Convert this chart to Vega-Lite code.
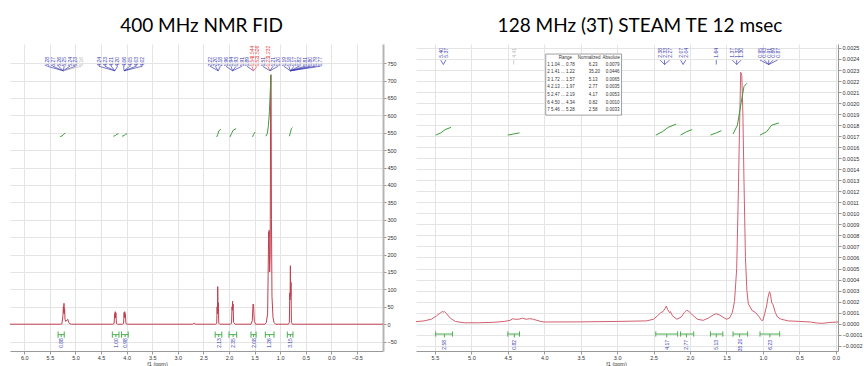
{
"$schema": "https://vega.github.io/schema/vega-lite/v6.json",
"padding": {"left": 10, "top": 17, "right": 0, "bottom": 0},
"spacing": 19,
"config": {
  "view": {"stroke": null},
  "font": "Liberation Sans",
  "title": {"font": "Lato", "fontSize": 19, "fontWeight": "normal", "color": "#000", "offset": 8},
  "axis": {"labelFont": "Liberation Sans", "labelFontSize": 5.5, "labelColor": "#333", "tickColor": "#999", "tickSize": 3, "labelPadding": 1, "domainColor": "#999", "gridColor": "#e4e4e4", "gridWidth": 1, "titleFont": "Liberation Sans", "titleFontSize": 5.5, "titleFontWeight": "normal", "titleColor": "#333", "labelFlush": false}
},
"datasets": {
  "L": [{"ppm":6.28,"v":0},{"ppm":5.3,"v":0},{"ppm":5.265,"v":1},{"ppm":5.245,"v":25},{"ppm":5.237,"v":50},{"ppm":5.231,"v":33},{"ppm":5.225,"v":60},{"ppm":5.219,"v":30},{"ppm":5.213,"v":45},{"ppm":5.205,"v":14},{"ppm":5.19,"v":8},{"ppm":5.165,"v":12},{"ppm":5.15,"v":14},{"ppm":5.135,"v":6},{"ppm":5.11,"v":1},{"ppm":5.08,"v":0},
   {"ppm":4.27,"v":0},{"ppm":4.245,"v":2},{"ppm":4.235,"v":30},{"ppm":4.229,"v":20},{"ppm":4.223,"v":36},{"ppm":4.216,"v":18},{"ppm":4.21,"v":33},{"ppm":4.2,"v":2},{"ppm":4.18,"v":0},
   {"ppm":4.08,"v":0},{"ppm":4.06,"v":2},{"ppm":4.05,"v":34},{"ppm":4.044,"v":20},{"ppm":4.038,"v":36},{"ppm":4.031,"v":18},{"ppm":4.025,"v":30},{"ppm":4.015,"v":2},{"ppm":3.99,"v":0},
   {"ppm":2.71,"v":0},{"ppm":2.68,"v":3},{"ppm":2.65,"v":0},
   {"ppm":2.26,"v":0},{"ppm":2.24,"v":2},{"ppm":2.232,"v":50},{"ppm":2.226,"v":30},{"ppm":2.22,"v":108},{"ppm":2.214,"v":40},{"ppm":2.208,"v":62},{"ppm":2.2,"v":3},{"ppm":2.18,"v":0},
   {"ppm":1.97,"v":0},{"ppm":1.95,"v":3},{"ppm":1.94,"v":50},{"ppm":1.935,"v":40},{"ppm":1.93,"v":66},{"ppm":1.925,"v":45},{"ppm":1.92,"v":58},{"ppm":1.91,"v":5},{"ppm":1.88,"v":0},
   {"ppm":1.57,"v":0},{"ppm":1.545,"v":10},{"ppm":1.53,"v":58},{"ppm":1.52,"v":55},{"ppm":1.505,"v":8},{"ppm":1.48,"v":0},
   {"ppm":1.3,"v":0},{"ppm":1.27,"v":5},{"ppm":1.245,"v":30},{"ppm":1.235,"v":140},{"ppm":1.225,"v":265},{"ppm":1.22,"v":250},{"ppm":1.215,"v":270},{"ppm":1.205,"v":150},{"ppm":1.195,"v":200},{"ppm":1.185,"v":715},{"ppm":1.178,"v":700},{"ppm":1.17,"v":300},{"ppm":1.16,"v":80},{"ppm":1.14,"v":20},{"ppm":1.12,"v":5},{"ppm":1.09,"v":0},
   {"ppm":0.84,"v":0},{"ppm":0.82,"v":5},{"ppm":0.812,"v":90},{"ppm":0.806,"v":70},{"ppm":0.8,"v":168},{"ppm":0.794,"v":80},{"ppm":0.788,"v":120},{"ppm":0.78,"v":5},{"ppm":0.76,"v":0},{"ppm":-1.01,"v":0}],
  "LC": [{"g":"a","ppm":5.3,"v":539},{"g":"a","ppm":5.26,"v":541},{"g":"a","ppm":5.23,"v":546},{"g":"a","ppm":5.2,"v":549},
   {"g":"b","ppm":4.26,"v":540},{"g":"b","ppm":4.22,"v":542},{"g":"b","ppm":4.19,"v":546},{"g":"b","ppm":4.16,"v":547},
   {"g":"c","ppm":4.09,"v":540},{"g":"c","ppm":4.05,"v":542},{"g":"c","ppm":4.02,"v":546},{"g":"c","ppm":3.99,"v":547},
   {"g":"d","ppm":2.24,"v":538},{"g":"d","ppm":2.22,"v":545},{"g":"d","ppm":2.2,"v":555},{"g":"d","ppm":2.16,"v":560},
   {"g":"e","ppm":1.98,"v":538},{"g":"e","ppm":1.95,"v":548},{"g":"e","ppm":1.92,"v":557},{"g":"e","ppm":1.86,"v":562},
   {"g":"f","ppm":1.54,"v":538},{"g":"f","ppm":1.52,"v":545},{"g":"f","ppm":1.49,"v":552},
   {"g":"h","ppm":1.28,"v":540},{"g":"h","ppm":1.25,"v":548},{"g":"h","ppm":1.23,"v":570},{"g":"h","ppm":1.21,"v":610},{"g":"h","ppm":1.19,"v":680},{"g":"h","ppm":1.175,"v":718},
   {"g":"i","ppm":0.82,"v":540},{"g":"i","ppm":0.8,"v":550},{"g":"i","ppm":0.78,"v":562},{"g":"i","ppm":0.76,"v":565}],
  "LB": [{"ppm":5.34,"ppm2":5.22,"v":-30},{"ppm":4.28,"ppm2":4.15,"v":-30},{"ppm":4.1,"ppm2":3.97,"v":-30},{"ppm":2.27,"ppm2":2.14,"v":-30},{"ppm":2.0,"ppm2":1.85,"v":-30},{"ppm":1.57,"ppm2":1.47,"v":-30},{"ppm":1.29,"ppm2":1.12,"v":-30},{"ppm":0.86,"ppm2":0.75,"v":-30}],
  "LE": [{"ppm":5.34,"v":-21,"v2":-39},{"ppm":5.22,"v":-21,"v2":-39},{"ppm":5.28,"v":-30,"v2":-37},
   {"ppm":4.28,"v":-21,"v2":-39},{"ppm":4.15,"v":-21,"v2":-39},{"ppm":4.21,"v":-30,"v2":-37},
   {"ppm":4.1,"v":-21,"v2":-39},{"ppm":3.97,"v":-21,"v2":-39},{"ppm":4.03,"v":-30,"v2":-37},
   {"ppm":2.27,"v":-21,"v2":-39},{"ppm":2.14,"v":-21,"v2":-39},{"ppm":2.2,"v":-30,"v2":-37},
   {"ppm":2.0,"v":-21,"v2":-39},{"ppm":1.85,"v":-21,"v2":-39},{"ppm":1.92,"v":-30,"v2":-37},
   {"ppm":1.57,"v":-21,"v2":-39},{"ppm":1.47,"v":-21,"v2":-39},{"ppm":1.52,"v":-30,"v2":-37},
   {"ppm":1.29,"v":-21,"v2":-39},{"ppm":1.12,"v":-21,"v2":-39},{"ppm":1.21,"v":-30,"v2":-37},
   {"ppm":0.86,"v":-21,"v2":-39},{"ppm":0.75,"v":-21,"v2":-39},{"ppm":0.8,"v":-30,"v2":-37}],
  "LL": [{"ppm":5.28,"v":-54,"t":"0.88"},{"ppm":4.21,"v":-54,"t":"1.00"},{"ppm":4.03,"v":-54,"t":"0.98"},{"ppm":2.2,"v":-54,"t":"2.13"},{"ppm":1.92,"v":-54,"t":"2.35"},{"ppm":1.52,"v":-54,"t":"2.08"},{"ppm":1.21,"v":-54,"t":"1.26"},{"ppm":0.8,"v":-54,"t":"3.15"}],
  "LT": [{"ppm":5.55,"t":"5.28","k":"b","c":5.24,"v":768,"v1":741,"v2":728},{"ppm":5.44,"t":"5.27","k":"b","c":5.24,"v":768,"v1":741,"v2":728},{"ppm":5.33,"t":"5.26","k":"b","c":5.24,"v":768,"v1":741,"v2":728},{"ppm":5.22,"t":"5.25","k":"b","c":5.24,"v":768,"v1":741,"v2":728},{"ppm":5.11,"t":"5.24","k":"b","c":5.24,"v":768,"v1":741,"v2":728},{"ppm":5.0,"t":"5.23","k":"b","c":5.24,"v":768,"v1":741,"v2":728},{"ppm":4.89,"t":"5.16","k":"g","c":5.24,"v":768,"v1":741,"v2":728},
   {"ppm":4.54,"t":"4.24","k":"b","c":4.23,"v":768,"v1":741,"v2":728},{"ppm":4.42,"t":"4.23","k":"b","c":4.23,"v":768,"v1":741,"v2":728},{"ppm":4.3,"t":"4.21","k":"b","c":4.23,"v":768,"v1":741,"v2":728},{"ppm":4.18,"t":"4.20","k":"b","c":4.23,"v":768,"v1":741,"v2":728},{"ppm":4.06,"t":"4.06","k":"b","c":4.05,"v":768,"v1":741,"v2":728},{"ppm":3.94,"t":"4.05","k":"b","c":4.05,"v":768,"v1":741,"v2":728},{"ppm":3.82,"t":"4.03","k":"b","c":4.05,"v":768,"v1":741,"v2":728},{"ppm":3.7,"t":"4.02","k":"b","c":4.05,"v":768,"v1":741,"v2":728},
   {"ppm":2.37,"t":"2.22","k":"b","c":2.21,"v":768,"v1":741,"v2":728},{"ppm":2.27,"t":"2.20","k":"b","c":2.21,"v":768,"v1":741,"v2":728},{"ppm":2.17,"t":"2.18","k":"b","c":2.21,"v":768,"v1":741,"v2":728},{"ppm":2.06,"t":"1.96","k":"b","c":1.93,"v":768,"v1":741,"v2":728},{"ppm":1.96,"t":"1.94","k":"b","c":1.93,"v":768,"v1":741,"v2":728},{"ppm":1.86,"t":"1.93","k":"b","c":1.93,"v":768,"v1":741,"v2":728},{"ppm":1.75,"t":"1.91","k":"b","c":1.93,"v":768,"v1":741,"v2":728},{"ppm":1.65,"t":"1.89","k":"b","c":1.52,"v":768,"v1":741,"v2":728},{"ppm":1.55,"t":"1.54","k":"r","c":1.52,"v":768,"v1":741,"v2":728},{"ppm":1.45,"t":"1.52","k":"r","c":1.52,"v":768,"v1":741,"v2":728},{"ppm":1.34,"t":"1.51","k":"b","c":1.2,"v":768,"v1":741,"v2":728},{"ppm":1.24,"t":"1.23","k":"r","c":1.2,"v":768,"v1":741,"v2":728},{"ppm":1.14,"t":"1.21","k":"b","c":1.2,"v":768,"v1":741,"v2":728},{"ppm":1.04,"t":"1.20","k":"b","c":1.2,"v":768,"v1":741,"v2":728},{"ppm":0.93,"t":"1.19","k":"b","c":0.8,"v":768,"v1":741,"v2":728},{"ppm":0.83,"t":"1.18","k":"b","c":0.8,"v":768,"v1":741,"v2":728},{"ppm":0.73,"t":"1.17","k":"b","c":0.8,"v":768,"v1":741,"v2":728},{"ppm":0.63,"t":"0.82","k":"b","c":0.8,"v":768,"v1":741,"v2":728},{"ppm":0.52,"t":"0.81","k":"b","c":0.8,"v":768,"v1":741,"v2":728},{"ppm":0.42,"t":"0.80","k":"b","c":0.8,"v":768,"v1":741,"v2":728},{"ppm":0.32,"t":"0.79","k":"b","c":0.8,"v":768,"v1":741,"v2":728},{"ppm":0.22,"t":"0.77","k":"b","c":0.8,"v":768,"v1":741,"v2":728}],
  "LR": [{"ppm":1.55,"t":"1.544","v":800},{"ppm":1.45,"t":"1.526","v":800},{"ppm":1.24,"t":"1.232","v":800}],
  "R": [{"ppm":5.76,"v":0.000018},{"ppm":5.65,"v":0.000025},{"ppm":5.55,"v":0.00004},{"ppm":5.48,"v":0.00007},{"ppm":5.42,"v":0.0001},{"ppm":5.4,"v":0.00011},{"ppm":5.385,"v":0.000105},{"ppm":5.37,"v":0.00011},{"ppm":5.34,"v":0.00009},{"ppm":5.29,"v":0.00005},{"ppm":5.22,"v":0.00002},{"ppm":5.1,"v":0.000008},{"ppm":4.9,"v":0.000008},{"ppm":4.7,"v":0.000012},{"ppm":4.55,"v":0.00002},{"ppm":4.47,"v":0.00003},{"ppm":4.43,"v":0.000045},{"ppm":4.4,"v":0.00004},{"ppm":4.35,"v":0.00004},{"ppm":4.3,"v":0.00005},{"ppm":4.25,"v":0.00004},{"ppm":4.2,"v":0.000045},{"ppm":4.15,"v":0.00004},{"ppm":4.1,"v":0.00003},{"ppm":4.05,"v":0.00002},{"ppm":4.0,"v":0.000015},{"ppm":3.5,"v":0.000016},{"ppm":3.0,"v":0.00002},{"ppm":2.6,"v":0.000025},{"ppm":2.5,"v":0.00004},{"ppm":2.45,"v":0.00007},{"ppm":2.4,"v":0.0001},{"ppm":2.37,"v":0.00011},{"ppm":2.34,"v":0.00014},{"ppm":2.325,"v":0.00016},{"ppm":2.31,"v":0.00013},{"ppm":2.28,"v":0.0001},{"ppm":2.27,"v":0.00011},{"ppm":2.24,"v":0.00007},{"ppm":2.18,"v":0.00004},{"ppm":2.12,"v":0.00006},{"ppm":2.08,"v":0.0001},{"ppm":2.05,"v":0.00012},{"ppm":2.02,"v":0.000115},{"ppm":1.97,"v":0.00008},{"ppm":1.9,"v":0.00004},{"ppm":1.82,"v":0.00003},{"ppm":1.75,"v":0.00005},{"ppm":1.68,"v":0.00008},{"ppm":1.64,"v":0.00009},{"ppm":1.6,"v":0.00008},{"ppm":1.55,"v":0.00006},{"ppm":1.5,"v":0.00004},{"ppm":1.46,"v":0.00005},{"ppm":1.42,"v":0.0001},{"ppm":1.39,"v":0.0002},{"ppm":1.36,"v":0.0005},{"ppm":1.34,"v":0.0011},{"ppm":1.32,"v":0.0018},{"ppm":1.305,"v":0.00228},{"ppm":1.29,"v":0.00225},{"ppm":1.275,"v":0.0019},{"ppm":1.26,"v":0.0013},{"ppm":1.24,"v":0.0006},{"ppm":1.22,"v":0.0003},{"ppm":1.2,"v":0.00018},{"ppm":1.15,"v":0.00012},{"ppm":1.1,"v":0.0001},{"ppm":1.05,"v":0.00006},{"ppm":1.02,"v":0.00003},{"ppm":1.0,"v":0.00003},{"ppm":0.98,"v":0.00008},{"ppm":0.95,"v":0.00016},{"ppm":0.93,"v":0.00024},{"ppm":0.91,"v":0.00029},{"ppm":0.895,"v":0.00026},{"ppm":0.88,"v":0.00019},{"ppm":0.86,"v":0.00017},{"ppm":0.83,"v":0.0001},{"ppm":0.8,"v":0.00006},{"ppm":0.75,"v":0.00004},{"ppm":0.65,"v":0.000025},{"ppm":0.5,"v":0.00002},{"ppm":0.35,"v":0.000015},{"ppm":0.25,"v":0.000005},{"ppm":0.18,"v":0.000003},{"ppm":0.1,"v":0.00001},{"ppm":-0.03,"v":0.000015}],
  "RC": [{"g":"a","ppm":5.49,"v":0.00171},{"g":"a","ppm":5.42,"v":0.00173},{"g":"a","ppm":5.36,"v":0.00176},{"g":"a","ppm":5.28,"v":0.00178},
   {"g":"b","ppm":4.5,"v":0.00171},{"g":"b","ppm":4.42,"v":0.00172},{"g":"b","ppm":4.34,"v":0.00173},
   {"g":"c","ppm":2.47,"v":0.00171},{"g":"c","ppm":2.38,"v":0.00174},{"g":"c","ppm":2.3,"v":0.00178},{"g":"c","ppm":2.19,"v":0.00181},
   {"g":"d","ppm":2.13,"v":0.00171},{"g":"d","ppm":2.05,"v":0.00174},{"g":"d","ppm":1.97,"v":0.00176},
   {"g":"e","ppm":1.72,"v":0.00171},{"g":"e","ppm":1.64,"v":0.00173},{"g":"e","ppm":1.57,"v":0.00175},
   {"g":"f","ppm":1.41,"v":0.00172},{"g":"f","ppm":1.35,"v":0.0018},{"g":"f","ppm":1.3,"v":0.002},{"g":"f","ppm":1.26,"v":0.00215},{"g":"f","ppm":1.22,"v":0.00218},
   {"g":"h","ppm":1.04,"v":0.00171},{"g":"h","ppm":0.95,"v":0.00174},{"g":"h","ppm":0.88,"v":0.0018},{"g":"h","ppm":0.78,"v":0.00182}],
  "RB": [{"ppm":5.49,"ppm2":5.26,"v":-0.000094},{"ppm":4.5,"ppm2":4.34,"v":-0.000094},{"ppm":2.47,"ppm2":2.17,"v":-0.000094},{"ppm":2.13,"ppm2":1.95,"v":-0.000094},{"ppm":1.72,"ppm2":1.55,"v":-0.000094},{"ppm":1.41,"ppm2":1.21,"v":-0.000094},{"ppm":1.04,"ppm2":0.77,"v":-0.000094}],
  "RE": [{"ppm":5.49,"v":-0.00007,"v2":-0.000118},{"ppm":5.26,"v":-0.00007,"v2":-0.000118},{"ppm":5.37,"v":-0.000094,"v2":-0.000125},
   {"ppm":4.5,"v":-0.00007,"v2":-0.000118},{"ppm":4.34,"v":-0.00007,"v2":-0.000118},{"ppm":4.41,"v":-0.000094,"v2":-0.000125},
   {"ppm":2.47,"v":-0.00007,"v2":-0.000118},{"ppm":2.17,"v":-0.00007,"v2":-0.000118},{"ppm":2.32,"v":-0.000094,"v2":-0.000125},
   {"ppm":2.13,"v":-0.00007,"v2":-0.000118},{"ppm":1.95,"v":-0.00007,"v2":-0.000118},{"ppm":2.05,"v":-0.000094,"v2":-0.000125},
   {"ppm":1.72,"v":-0.00007,"v2":-0.000118},{"ppm":1.55,"v":-0.00007,"v2":-0.000118},{"ppm":1.64,"v":-0.000094,"v2":-0.000125},
   {"ppm":1.41,"v":-0.00007,"v2":-0.000118},{"ppm":1.21,"v":-0.00007,"v2":-0.000118},{"ppm":1.32,"v":-0.000094,"v2":-0.000125},
   {"ppm":1.04,"v":-0.00007,"v2":-0.000118},{"ppm":0.77,"v":-0.00007,"v2":-0.000118},{"ppm":0.905,"v":-0.000094,"v2":-0.000125}],
  "RL": [{"ppm":5.37,"v":-0.000193,"t":"2.58"},{"ppm":4.41,"v":-0.000193,"t":"0.82"},{"ppm":2.32,"v":-0.000193,"t":"4.17"},{"ppm":2.05,"v":-0.000193,"t":"2.77"},{"ppm":1.64,"v":-0.000193,"t":"5.13"},{"ppm":1.32,"v":-0.000193,"t":"35.20"},{"ppm":0.905,"v":-0.000193,"t":"6.23"}],
  "RT": [{"ppm":5.42,"t":"5.40","k":"b","c":5.385,"v":0.0025,"v1":0.00239,"v2":0.00235},{"ppm":5.35,"t":"5.37","k":"b","c":5.385,"v":0.0025,"v1":0.00239,"v2":0.00235},{"ppm":4.42,"t":"4.41","k":"g","c":4.42,"v":0.0025,"v1":0.00239,"v2":0.00235},{"ppm":2.41,"t":"2.38","k":"b","c":2.35,"v":0.0025,"v1":0.00239,"v2":0.00235},{"ppm":2.35,"t":"2.33","k":"b","c":2.35,"v":0.0025,"v1":0.00239,"v2":0.00235},{"ppm":2.28,"t":"2.27","k":"b","c":2.35,"v":0.0025,"v1":0.00239,"v2":0.00235},{"ppm":2.13,"t":"2.07","k":"b","c":2.095,"v":0.0025,"v1":0.00239,"v2":0.00235},{"ppm":2.06,"t":"2.04","k":"b","c":2.095,"v":0.0025,"v1":0.00239,"v2":0.00235},{"ppm":1.64,"t":"1.64","k":"b","c":1.64,"v":0.0025,"v1":0.00239,"v2":0.00235},{"ppm":1.42,"t":"1.37","k":"b","c":1.36,"v":0.0025,"v1":0.00239,"v2":0.00235},{"ppm":1.36,"t":"1.32","k":"b","c":1.36,"v":0.0025,"v1":0.00239,"v2":0.00235},{"ppm":1.3,"t":"1.30","k":"b","c":1.36,"v":0.0025,"v1":0.00239,"v2":0.00235},{"ppm":1.04,"t":"0.95","k":"b","c":0.92,"v":0.0025,"v1":0.00239,"v2":0.00235},{"ppm":0.98,"t":"0.93","k":"b","c":0.92,"v":0.0025,"v1":0.00239,"v2":0.00235},{"ppm":0.92,"t":"0.91","k":"b","c":0.92,"v":0.0025,"v1":0.00239,"v2":0.00235},{"ppm":0.86,"t":"0.89","k":"b","c":0.92,"v":0.0025,"v1":0.00239,"v2":0.00235},{"ppm":0.8,"t":"0.87","k":"b","c":0.92,"v":0.0025,"v1":0.00239,"v2":0.00235}],
  "BOX": [{"ppm":3.98,"ppm2":2.94,"v":0.002445,"v2":0.001891}],
  "TB": [{"ppm":3.8,"v":0.002406,"t":"Range"},{"ppm":3.54,"v":0.002406,"t":"Normalized"},{"ppm":3.2,"v":0.002406,"t":"Absolute"},
   {"ppm":3.96,"v":0.002345,"t":"1 1.04 ... 0.78"},{"ppm":3.39,"v":0.002345,"t":"6.23"},{"ppm":3.155,"v":0.002345,"t":"0.0079"},
   {"ppm":3.96,"v":0.002279,"t":"2 1.41 ... 1.22"},{"ppm":3.39,"v":0.002279,"t":"35.20"},{"ppm":3.155,"v":0.002279,"t":"0.0446"},
   {"ppm":3.96,"v":0.002209,"t":"3 1.72 ... 1.57"},{"ppm":3.39,"v":0.002209,"t":"5.13"},{"ppm":3.155,"v":0.002209,"t":"0.0065"},
   {"ppm":3.96,"v":0.002143,"t":"4 2.13 ... 1.97"},{"ppm":3.39,"v":0.002143,"t":"2.77"},{"ppm":3.155,"v":0.002143,"t":"0.0035"},
   {"ppm":3.96,"v":0.002073,"t":"5 2.47 ... 2.19"},{"ppm":3.39,"v":0.002073,"t":"4.17"},{"ppm":3.155,"v":0.002073,"t":"0.0053"},
   {"ppm":3.96,"v":0.002004,"t":"6 4.50 ... 4.34"},{"ppm":3.39,"v":0.002004,"t":"0.82"},{"ppm":3.155,"v":0.002004,"t":"0.0010"},
   {"ppm":3.96,"v":0.001937,"t":"7 5.46 ... 5.28"},{"ppm":3.39,"v":0.001937,"t":"2.58"},{"ppm":3.155,"v":0.001937,"t":"0.0033"}]
},
"hconcat": [
 {
  "width": 373, "height": 307,
  "title": {"text": "400 MHz NMR FID", "dx": 5},
  "encoding": {
    "x": {"field": "ppm", "type": "quantitative", "scale": {"domain": [-1.01, 6.28], "reverse": true, "nice": false, "zero": false},
          "axis": {"values": [6, 5.5, 5, 4.5, 4, 3.5, 3, 2.5, 2, 1.5, 1, 0.5, 0, -0.5], "format": ".1f", "grid": true, "title": "f1 (ppm)", "titleX": 147, "titleY": 12, "titleBaseline": "middle", "titleAlign": "center"}},
    "y": {"field": "v", "type": "quantitative", "scale": {"domain": [-77, 805], "nice": false, "zero": false},
          "axis": {"orient": "right", "values": [-50, 0, 50, 100, 150, 200, 250, 300, 350, 400, 450, 500, 550, 600, 650, 700, 750], "format": "d", "grid": true, "title": null, "domainWidth": 2, "domainColor": "#b5b5b5"}}
  },
  "layer": [
    {"data": {"name": "L"}, "mark": {"type": "line", "color": "#c04050", "strokeWidth": 1, "clip": true}},
    {"data": {"name": "LC"}, "mark": {"type": "line", "color": "#3a9e3a", "strokeWidth": 1}, "encoding": {"detail": {"field": "g"}}},
    {"data": {"name": "LB"}, "mark": {"type": "rule", "color": "#4caf50", "strokeWidth": 1}, "encoding": {"x2": {"field": "ppm2"}}},
    {"data": {"name": "LE"}, "mark": {"type": "rule", "color": "#4caf50", "strokeWidth": 1}, "encoding": {"y2": {"field": "v2"}}},
    {"data": {"name": "LL"}, "mark": {"type": "text", "angle": 270, "align": "center", "baseline": "middle", "fontSize": 5, "color": "#3a3ab0"}, "encoding": {"text": {"field": "t"}}},
    {"data": {"name": "LT"}, "mark": {"type": "rule", "strokeWidth": 0.7}, "encoding": {"x2": {"field": "c"}, "y": {"field": "v1", "type": "quantitative"}, "y2": {"field": "v2"}, "color": {"field": "k", "type": "nominal", "scale": {"domain": ["b", "r", "g"], "range": ["#3a3ab0", "#e8474c", "#bbbbbb"]}, "legend": null}}},
    {"data": {"name": "LT"}, "mark": {"type": "text", "angle": 270, "align": "right", "baseline": "middle", "fontSize": 5}, "encoding": {"text": {"field": "t"}, "color": {"field": "k", "type": "nominal", "scale": {"domain": ["b", "r", "g"], "range": ["#3a3ab0", "#e8474c", "#bbbbbb"]}, "legend": null}}},
    {"data": {"name": "LR"}, "mark": {"type": "text", "angle": 270, "align": "right", "baseline": "middle", "fontSize": 5, "color": "#e8474c"}, "encoding": {"text": {"field": "t"}}}
  ]
 },
 {
  "width": 422, "height": 307,
  "title": {"text": "128 MHz (3T) STEAM TE 12 msec", "dx": 13},
  "encoding": {
    "x": {"field": "ppm", "type": "quantitative", "scale": {"domain": [-0.03, 5.76], "reverse": true, "nice": false, "zero": false},
          "axis": {"values": [5.5, 5, 4.5, 4, 3.5, 3, 2.5, 2, 1.5, 1, 0.5, 0], "format": ".1f", "grid": true, "title": "f1 (ppm)", "titleX": 200, "titleY": 12, "titleBaseline": "middle", "titleAlign": "center"}},
    "y": {"field": "v", "type": "quantitative", "scale": {"domain": [-0.000248, 0.002536], "nice": false, "zero": false},
          "axis": {"orient": "right", "values": [-0.0002, -0.0001, 0, 0.0001, 0.0002, 0.0003, 0.0004, 0.0005, 0.0006, 0.0007, 0.0008, 0.0009, 0.001, 0.0011, 0.0012, 0.0013, 0.0014, 0.0015, 0.0016, 0.0017, 0.0018, 0.0019, 0.002, 0.0021, 0.0022, 0.0023, 0.0024, 0.0025], "format": ".4f", "grid": true, "title": null, "domainWidth": 1, "domainColor": "#999"}}
  },
  "layer": [
    {"data": {"name": "R"}, "mark": {"type": "line", "color": "#d06070", "strokeWidth": 1, "clip": true}},
    {"data": {"name": "RC"}, "mark": {"type": "line", "color": "#3a9e3a", "strokeWidth": 1}, "encoding": {"detail": {"field": "g"}}},
    {"data": {"name": "RB"}, "mark": {"type": "rule", "color": "#4caf50", "strokeWidth": 1}, "encoding": {"x2": {"field": "ppm2"}}},
    {"data": {"name": "RE"}, "mark": {"type": "rule", "color": "#4caf50", "strokeWidth": 1}, "encoding": {"y2": {"field": "v2"}}},
    {"data": {"name": "RL"}, "mark": {"type": "text", "angle": 270, "align": "center", "baseline": "middle", "fontSize": 5, "color": "#3a3ab0"}, "encoding": {"text": {"field": "t"}}},
    {"data": {"name": "RT"}, "mark": {"type": "rule", "strokeWidth": 0.7}, "encoding": {"x2": {"field": "c"}, "y": {"field": "v1", "type": "quantitative"}, "y2": {"field": "v2"}, "color": {"field": "k", "type": "nominal", "scale": {"domain": ["b", "g"], "range": ["#3a3ab0", "#bbbbbb"]}, "legend": null}}},
    {"data": {"name": "RT"}, "mark": {"type": "text", "angle": 270, "align": "right", "baseline": "middle", "fontSize": 5}, "encoding": {"text": {"field": "t"}, "color": {"field": "k", "type": "nominal", "scale": {"domain": ["b", "g"], "range": ["#3a3ab0", "#bbbbbb"]}, "legend": null}}},
    {"data": {"name": "BOX"}, "mark": {"type": "rect", "fill": "#ffffff", "stroke": "#888888", "strokeWidth": 0.8}, "encoding": {"x2": {"field": "ppm2"}, "y2": {"field": "v2"}}},
    {"data": {"name": "TB"}, "mark": {"type": "text", "align": "left", "baseline": "middle", "fontSize": 4.5, "color": "#333"}, "encoding": {"text": {"field": "t"}}}
  ]
 }
]
}
